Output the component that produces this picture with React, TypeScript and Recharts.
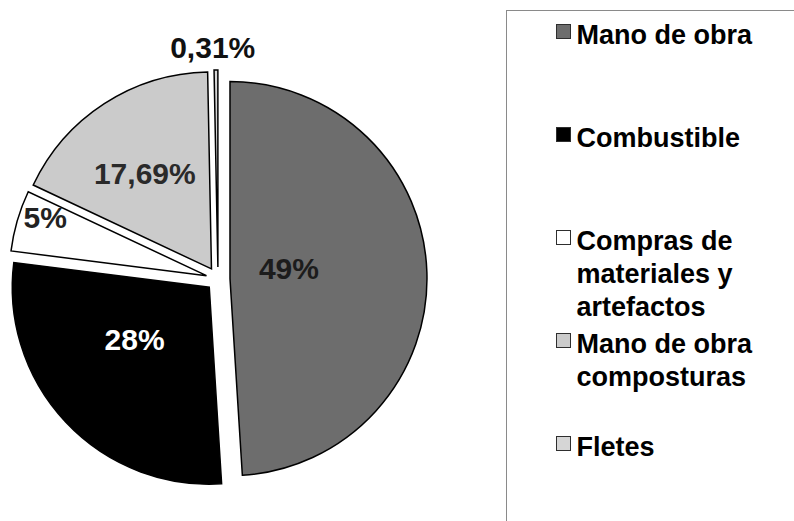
import React from 'react';
import { PieChart, Pie, Cell, Legend } from 'recharts';

// Cost breakdown (percent of total)
const categories = [
  'Mano de obra',
  'Combustible',
  'Compras de materiales y artefactos',
  'Mano de obra composturas',
  'Fletes',
];
const shares = [49, 28, 5, 17.69, 0.31];

// Styling
const sliceFills = ['#6d6d6d', '#000000', '#ffffff', '#cbcbcb', '#d6d6d6'];
const labelColors = ['#1c1c1c', '#ffffff', '#222222', '#2a2a2a', '#111111'];
const FONT = '"Liberation Sans", Arial, Helvetica, sans-serif';

// Layout
const CENTER_X = 218;
const CENTER_Y = 279;
const RADIUS = 197;
const EXPLODE = 12;
// label distance from each slice's apex along its mid angle, plus a small nudge
const labelPlacement = [
  { r: 59, dx: 0, dy: -9 },
  { r: 90, dx: -9, dy: -10 },
  { r: 171, dx: 3, dy: -11 },
  { r: 117, dx: -3, dy: 2 },
  { r: 220, dx: -3, dy: 0 },
];

const data = categories.map((name, i) => ({ name, value: shares[i] }));
const total = shares.reduce((a, b) => a + b, 0);

const formatShare = (v: number) => `${String(v).replace('.', ',')}%`;

// mid angle of every slice (degrees, counter-clockwise from 3 o'clock), clockwise from 12 o'clock
const midAngles: number[] = (() => {
  let acc = 0;
  return shares.map((v) => {
    const m = 90 - ((acc + v / 2) / total) * 360;
    acc += v;
    return m;
  });
})();

const RAD = Math.PI / 180;

const makeLabel = (k: number) => (props: any) => {
  const { cx, cy, midAngle, index } = props;
  if (index !== k) return null;
  const p = labelPlacement[k];
  const x = cx + p.r * Math.cos(-midAngle * RAD) + p.dx;
  const y = cy + p.r * Math.sin(-midAngle * RAD) + p.dy;
  return (
    <text
      x={x}
      y={y + 10.75}
      textAnchor="middle"
      fill={labelColors[k]}
      style={{ fontFamily: FONT, fontWeight: 700, fontSize: 30 }}
    >
      {formatShare(shares[k])}
    </text>
  );
};

const renderLegend = () => (
  <div style={{ position: 'relative', width: '100%', height: '100%', fontFamily: FONT, fontWeight: 700, fontSize: 27, lineHeight: '33px', color: '#000' }}>
    {categories.map((name, i) => (
      <div key={name} style={{ position: 'absolute', left: 0, top: 7.7 + i * 103, width: 300 }}>
        <span
          style={{
            position: 'absolute',
            left: 48.5,
            top: 5.8,
            width: 13,
            height: 13,
            background: sliceFills[i],
            border: '1px solid #2e2e2e',
          }}
        />
        <div style={{ position: 'absolute', left: 69.5, top: 0, width: 200, whiteSpace: 'normal' }}>{name}</div>
      </div>
    ))}
  </div>
);

export default function App() {
  return (
    <div style={{ position: 'absolute', left: 0, top: 0, width: 794, height: 521, overflow: 'hidden', background: '#fff' }}>
      <PieChart width={794} height={521} margin={{ top: 0, right: 0, bottom: 0, left: 0 }}>
        {shares.map((_, k) => {
          const a = midAngles[k] * RAD;
          const cx = CENTER_X + EXPLODE * Math.cos(a);
          const cy = CENTER_Y - EXPLODE * Math.sin(a);
          return (
            <Pie
              key={categories[k]}
              data={data}
              dataKey="value"
              nameKey="name"
              cx={cx}
              cy={cy}
              innerRadius={0}
              outerRadius={RADIUS}
              startAngle={90}
              endAngle={-270}
              isAnimationActive={false}
              labelLine={false}
              label={makeLabel(k)}
              legendType="none"
            >
              {data.map((d, i) => (
                <Cell
                  key={d.name}
                  fill={i === k ? sliceFills[i] : 'none'}
                  stroke={i === k ? '#000' : 'none'}
                  strokeWidth={1.5}
                />
              ))}
            </Pie>
          );
        })}
        <Legend
          layout="vertical"
          align="right"
          verticalAlign="top"
          content={renderLegend}
          wrapperStyle={{
            left: 506,
            top: 10,
            width: 320,
            height: 540,
            border: '1.5px solid #8a8a8a',
            boxSizing: 'border-box',
          }}
        />
      </PieChart>
    </div>
  );
}
